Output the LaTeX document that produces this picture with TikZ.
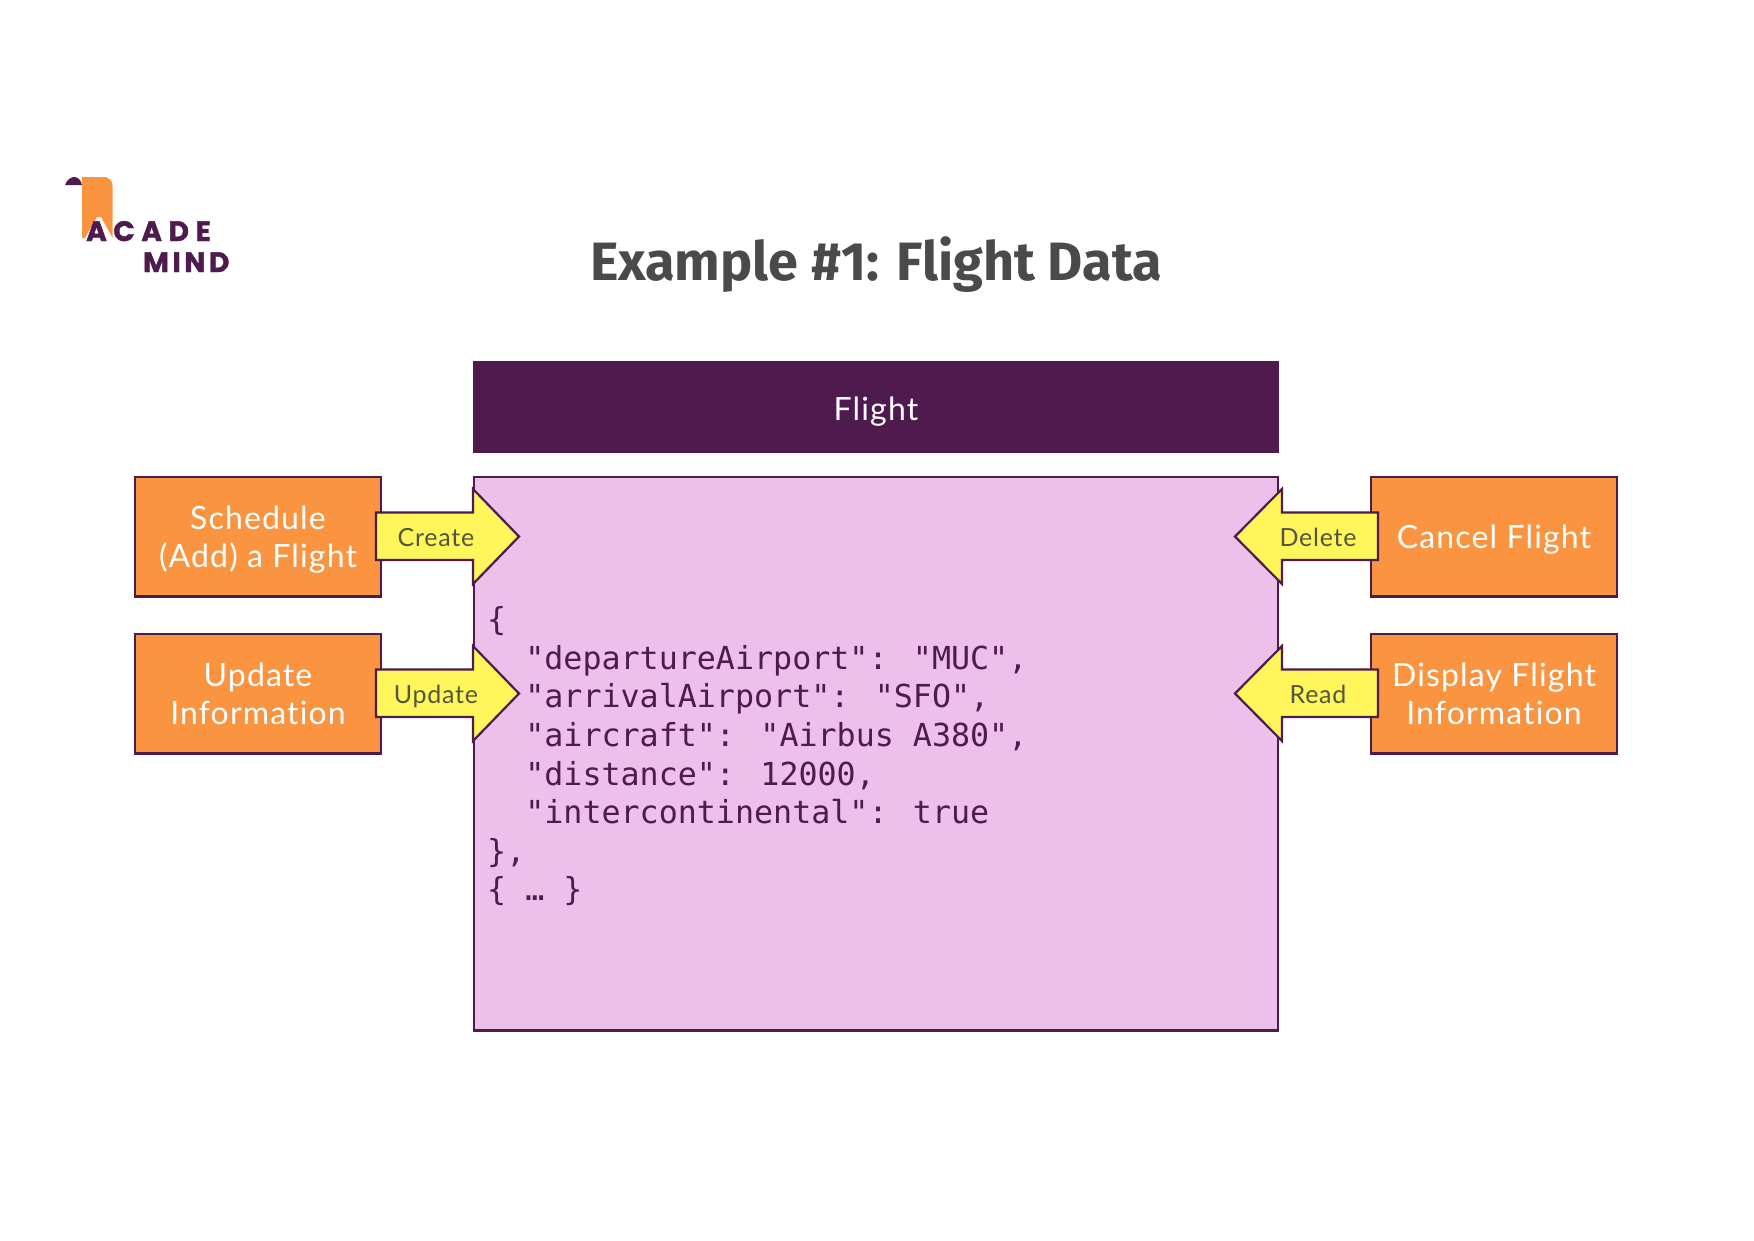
\documentclass[tikz,border=0pt]{standalone}
\usepackage{fontspec}
\setmainfont{Lato}[Ligatures=NoCommon]
\newfontfamily\titlefont{Fira Sans}
\newfontfamily\logofont{Poppins}[BoldFeatures={FakeBold=1.5}]
\newfontfamily\codefont{DejaVu Sans Mono}
\newfontfamily\boxfont{Lato}[LetterSpace=3.6,Ligatures=NoCommon]
\newfontfamily\labelfont{Lato}[LetterSpace=3,Ligatures=NoCommon]
\newcommand{\topst}{\rule{0pt}{33pt}}
\newcommand{\botst}{\rule[-10pt]{0pt}{10pt}}
\definecolor{plum}{HTML}{4F1A4E}
\definecolor{pinkfill}{HTML}{ECC0EA}
\definecolor{orangefill}{HTML}{FB9440}
\definecolor{yellowfill}{HTML}{FEF65B}
\definecolor{titlegray}{HTML}{4A4A4A}
\definecolor{arrowtext}{HTML}{55553F}
\tikzset{
  boxline/.style={draw=plum,line width=2.2pt,line join=miter},
  actionbox/.style={boxline,fill=orangefill,anchor=north west,outer sep=0pt,minimum width=246pt,minimum height=119.5pt,inner sep=0pt,text=white,align=center,font=\boxfont\fontsize{32}{38}\selectfont},
  arrowshape/.style={boxline,fill=yellowfill},
  arrowlabel/.style={text=arrowtext,font=\labelfont\fontsize{25}{30}\selectfont,inner sep=0pt,anchor=base},
}
\begin{document}
\begin{tikzpicture}[x=1pt,y=-1pt]
\useasboundingbox (0,0) rectangle (1754,1240);
% logo
\fill[orangefill] (82,177) -- (103,177) .. controls (110,177) and (112.7,181) .. (112.7,187) -- (112.7,238) -- (101,217) -- (97,217) -- (85,238) -- (82,238) -- cycle;
\fill[plum] (65,185) .. controls (67,179) and (72,177) .. (74,177) .. controls (78,177) and (81,180) .. (82,185) -- cycle;
\node[anchor=base west,inner sep=0pt,text=plum,font=\logofont\bfseries\fontsize{28}{28}\selectfont] (logoa) at (86,241) {A\kern6.6pt C\kern6.6pt A\kern6.6pt D\kern6.6pt E};
\node[anchor=base west,inner sep=0pt,text=plum,font=\logofont\bfseries\fontsize{28}{28}\selectfont] (logob) at (143,272) {M\kern3.6pt I\kern3.6pt N\kern3.6pt D};
% title
\node[text=titlegray,inner sep=0pt,font=\titlefont\bfseries\fontsize{54}{60}\selectfont] (title) at (876,265) {Example \#1: Flight Data};
% header and main
\node[boxline,fill=plum,anchor=north west,outer sep=0pt,minimum width=804pt,minimum height=90pt,inner sep=0pt,text=white,text height=27pt,text depth=0pt,font=\boxfont\fontsize{32}{38}\selectfont] (header) at (474,362) {Flight};
\node[boxline,fill=pinkfill,anchor=north west,outer sep=0pt,minimum width=804pt,minimum height=553.5pt,inner sep=0pt] (main) at (474,477) {};
% code
\node[anchor=north west,inner sep=0pt,text=plum,align=left,font=\codefont\fontsize{31.67}{38.6}\selectfont] (code) at (487,606.5) {
\{\\
\ \ "departureAirport": "MUC",\\
\ \ "arrivalAirport": "SFO",\\
\ \ "aircraft": "Airbus A380",\\
\ \ "distance": 12000,\\
\ \ "intercontinental": true\\
\},\\
\{ … \}};
% boxes
\node[actionbox] (sched) at (135,477) {\topst Schedule\\(Add) a Flight\botst};
\node[actionbox] (upd) at (135,634) {\topst Update\\Information\botst};
\node[actionbox] (cancel) at (1371,477) {\topst Cancel Flight\botst};
\node[actionbox] (disp) at (1371,634) {\topst Display Flight\\Information\botst};
% arrows
\draw[arrowshape] (376,512.5) -- (473,512.5) -- (473,489) -- (519,536.5) -- (473,584) -- (473,560) -- (376,560) -- cycle;
\node[arrowlabel] (create) at (436,546) {Create};
\draw[arrowshape] (376,669.5) -- (473,669.5) -- (473,646) -- (519,693.5) -- (473,741) -- (473,717) -- (376,717) -- cycle;
\node[arrowlabel] (update) at (436,703) {Update};
\draw[arrowshape] (1378,512.5) -- (1282,512.5) -- (1282,489) -- (1235,536.5) -- (1282,584) -- (1282,560) -- (1378,560) -- cycle;
\node[arrowlabel] (delete) at (1318,546) {Delete};
\draw[arrowshape] (1378,669.5) -- (1282,669.5) -- (1282,646) -- (1235,693.5) -- (1282,741) -- (1282,717) -- (1378,717) -- cycle;
\node[arrowlabel] (read) at (1318,703) {Read};
\end{tikzpicture}
\end{document}
